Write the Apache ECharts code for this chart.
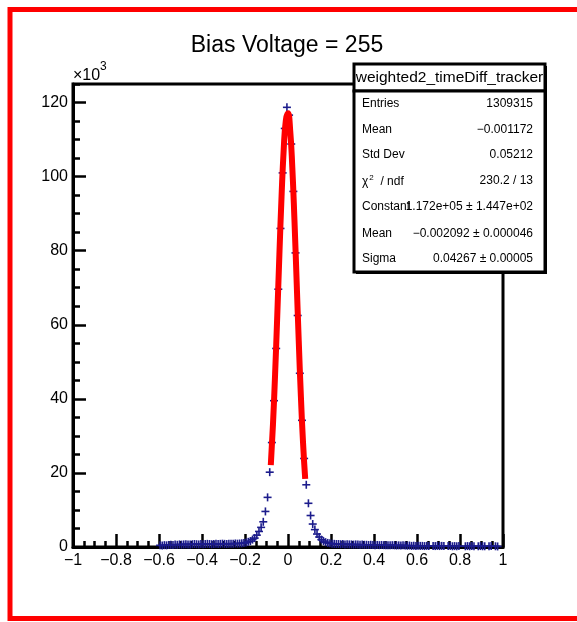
<!DOCTYPE html>
<html>
<head>
<meta charset="utf-8">
<script src="https://cdn.jsdelivr.net/npm/echarts@6/dist/echarts.min.js"></script>
<style>
html,body{margin:0;padding:0;background:#fff;}
#chart{width:577px;height:622px;}
</style>
</head>
<body>
<div id="chart"></div>
<script>
// ---- data (values in thousands of entries, bin width 0.01) ----
const binWidth = 0.01;
const leftTailStart = -0.595;
const leftTail = [0.45,0.4,0.5,0.45,0.55,0.6,0.55,0.65,0.6,0.7,0.65,0.7,0.75,0.7,0.7,0.75,0.8,0.75,0.7,0.8,
                  0.75,0.8,0.85,0.8,0.75,0.8,0.85,0.8,0.85,0.9,0.85,0.8,0.9,0.85,0.9,0.95,0.9,0.95,1.0];
const coreStart = -0.205;
const core = [1.05,1.2,1.4,1.6,2.0,2.4,3.2,4.2,5.3,6.8,9.6,13.4,20.2,28.2,39.5,53.6,69.6,86.0,101.0,113.0,
              118.7,116.6,108.8,96.0,79.4,62.5,46.9,34.2,23.9,16.8,11.8,8.5,6.2,4.7,3.5,2.7,2.0,1.6,1.3,1.1,1.0,0.9];
const rightTailStart = 0.215;
const rightTail = [0.85,0.8,0.8,0.75,0.8,0.7,0.75,0.7,0.7,0.65,0.7,0.65,0.6,0.65,0.6,0.6,0.55,0.6,0.55,0.5,
                   0.55,0.5,0.55,0.5,0.45,0.5,0.45,0.5,0.45,0.4,0.45,0.4,0.45,0.4,
                   0.35,0.4,0.3,0.35,0.3,0.35,0.3,0.3,0.25,0.3,0.25,null,0.3,0.25,0.3,0.25,0.3,0.25,null,
                   0.25,0.3,0.2,0.25,0.2,0.25,null,null,0.2,0.25,0.2,0.25,0.2,null,0.2,0.25,0.2,0.2,null,
                   0.2,0.25,null,0.2,0.15];
// Gaussian fit curve, sampled over the fit range
const fitX = [-0.08,-0.07,-0.06,-0.05,-0.04,-0.03,-0.02,-0.01,0.0,0.01,0.02,0.03,0.04,0.05,0.06,0.07,0.08];
const fitY = [22.1,33.0,46.7,62.4,79.0,94.6,107.3,115.2,117.1,112.6,102.5,88.3,72.0,55.6,40.6,28.1,18.4];
const xTicks = {min:-1, max:1, interval:0.2};
const yTicks = {min:0, max:125, interval:20, minor:5};
const titleText = 'Bias Voltage = 255';
const statTitle = 'weighted2_timeDiff_tracker';
const statLabels = ['Entries','Mean','Std Dev','CHI','Constant','Mean','Sigma'];
const statValues = ['1309315','\u22120.001172','0.05212','230.2 / 13',
                    '1.172e+05 \u00b1 1.447e+02','\u22120.002092 \u00b1 0.000046','0.04267 \u00b1 0.00005'];

// ---- build ----
function seg(start, vals){
  const out = [];
  vals.forEach((v,i)=>{ if(v!==null) out.push([+(start + i*binWidth).toFixed(3), v]); });
  return out;
}
const points = [].concat(seg(leftTailStart,leftTail), seg(coreStart,core), seg(rightTailStart,rightTail));
const fitData = fitX.map((x,i)=>[x, fitY[i]]);

const FONT = '"Liberation Sans", Arial, Helvetica, sans-serif';
const MK = '#1c1c8c';
const chart = echarts.init(document.getElementById('chart'), null, {renderer:'canvas'});

const statRows = [104, 130, 155, 181, 207, 234, 259];
const statGraphics = [];
statGraphics.push({type:'rect', z:100, shape:{x:356, y:66, width:191, height:208}, style:{fill:'#000'}});
statGraphics.push({type:'rect', z:101, shape:{x:354, y:64, width:191, height:27}, style:{fill:'#fff', stroke:'#000', lineWidth:3}});
statGraphics.push({type:'rect', z:101, shape:{x:354, y:91, width:191, height:181}, style:{fill:'#fff', stroke:'#000', lineWidth:3}});
statGraphics.push({type:'text', z:102, x:449.5, y:78, style:{text:statTitle, font:'15.5px '+FONT, fill:'#000', textAlign:'center', textVerticalAlign:'middle'}});
statLabels.forEach((lab,i)=>{
  if(lab==='CHI'){
    statGraphics.push({type:'text', z:102, x:362, y:statRows[i], style:{
      text:'{n|\u03c7}{s|2}{n|  / ndf}', textVerticalAlign:'middle', fill:'#000',
      rich:{n:{fontSize:12, fontFamily:FONT, fill:'#000', verticalAlign:'bottom', lineHeight:14},
            s:{fontSize:8, fontFamily:FONT, fill:'#000', verticalAlign:'top', lineHeight:14, padding:[0,0,6,1]}}
    }});
  } else {
    statGraphics.push({type:'text', z:102, x:362, y:statRows[i], style:{text:lab, font:'12px '+FONT, fill:'#000', textVerticalAlign:'middle'}});
  }
  statGraphics.push({type:'text', z:103, x:533, y:statRows[i], style:{text:statValues[i], font:'12px '+FONT, fill:'#000', textAlign:'right', textVerticalAlign:'middle'}});
});

const option = {
  animation:false,
  backgroundColor:'#fff',
  grid:{left:73, top:84, width:430, height:463, show:true, borderColor:'#000', borderWidth:3, backgroundColor:'transparent'},
  xAxis:{
    type:'value', min:xTicks.min, max:xTicks.max, interval:xTicks.interval,
    axisLine:{show:true, onZero:false, lineStyle:{color:'#000', width:3}},
    axisTick:{show:true, inside:true, length:13, lineStyle:{color:'#000', width:2.5}},
    minorTick:{show:true, splitNumber:4, length:6, lineStyle:{color:'#000', width:2.5}},
    splitLine:{show:false}, minorSplitLine:{show:false},
    axisLabel:{color:'#000', fontSize:16, fontFamily:FONT, margin:6,
      formatter:v=>{ const r = Math.round(v*10)/10; return r===0 ? '0' : String(r).replace('-', '\u2212'); }}
  },
  yAxis:[{
    type:'value', min:yTicks.min, max:yTicks.max, interval:yTicks.interval, position:'left',
    axisLine:{show:true, onZero:false, lineStyle:{color:'#000', width:3}},
    axisTick:{show:true, inside:true, length:13, lineStyle:{color:'#000', width:2.5}},
    splitLine:{show:false},
    axisLabel:{color:'#000', fontSize:16, fontFamily:FONT, margin:5, showMaxLabel:false,
      formatter:v=> (v%yTicks.interval===0 ? String(v) : '')}
  },{
    type:'value', min:yTicks.min, max:yTicks.max, interval:yTicks.minor, position:'left', offset:0,
    axisLine:{show:false, onZero:false},
    axisTick:{show:true, inside:true, length:7, lineStyle:{color:'#000', width:2.5}},
    splitLine:{show:false}, axisLabel:{show:false}
  }],
  series:[{
    type:'custom', z:2, clip:false, yAxisIndex:0,
    data:points,
    renderItem:(params, api)=>{
      const p = api.coord([api.value(0), api.value(1)]);
      return {type:'group', children:[
        {type:'line', shape:{x1:p[0]-4, y1:p[1], x2:p[0]+4, y2:p[1]}, style:{stroke:MK, lineWidth:1.6}},
        {type:'line', shape:{x1:p[0], y1:p[1]-4, x2:p[0], y2:p[1]+4}, style:{stroke:MK, lineWidth:1.6}}
      ]};
    }
  },{
    type:'line', z:3, yAxisIndex:0, data:fitData, smooth:true, showSymbol:false, symbol:'none',
    lineStyle:{color:'#ff0000', width:6}
  }],
  graphic:[
    {type:'rect', z:0, shape:{x:10, y:9.5, width:575, height:609}, style:{fill:'none', stroke:'#ff0000', lineWidth:5}},
    {type:'text', z:10, x:287, y:46, style:{text:titleText, font:'23px '+FONT, fill:'#000', textAlign:'center', textVerticalAlign:'middle'}},
    {type:'text', z:10, x:73, y:76, style:{text:'\u00d710', font:'16px '+FONT, fill:'#000', textVerticalAlign:'middle'}},
    {type:'text', z:10, x:100, y:67, style:{text:'3', font:'12px '+FONT, fill:'#000', textVerticalAlign:'middle'}}
  ].concat(statGraphics)
};
chart.setOption(option);
</script>
</body>
</html>
